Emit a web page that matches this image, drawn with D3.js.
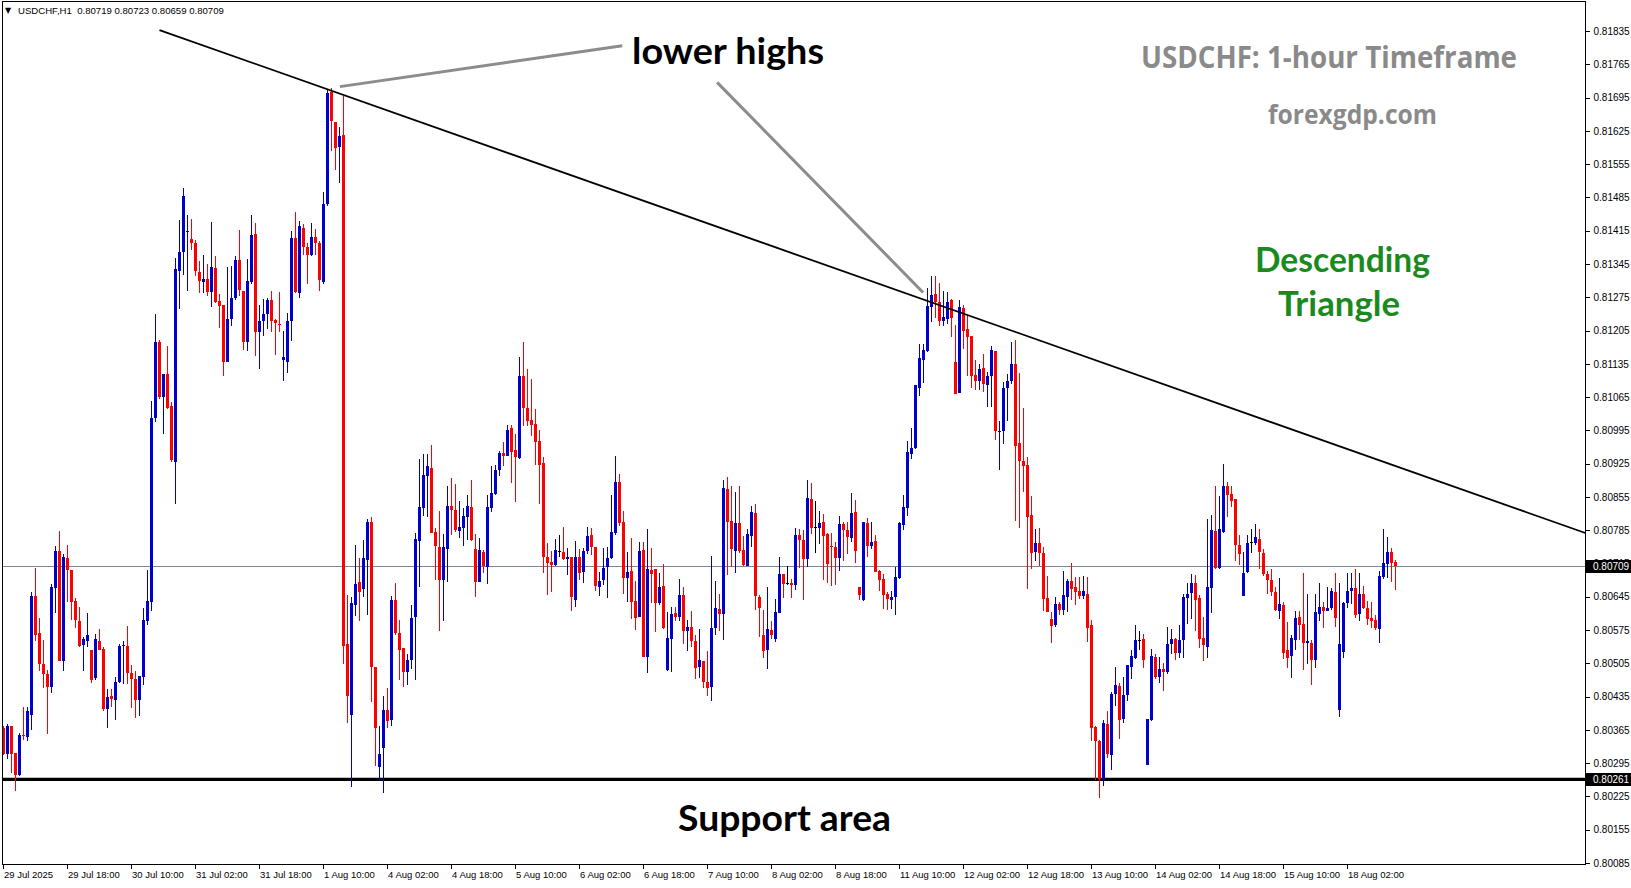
<!DOCTYPE html>
<html><head><meta charset="utf-8">
<script src="https://cdn.jsdelivr.net/npm/d3@7"></script>
<style>body{margin:0;background:#fff;}svg{display:block;}</style>
</head><body>
<svg id="chart" width="1631" height="888"></svg>
<script>
// ---------- DATA (USDCHF H1, bar 0 = 29 Jul 2025 02:00) ----------
const opens = [
0.80369,0.80314,0.80374,0.80316,0.80271,0.80354,0.80351,0.80397,0.80647,0.80568,
0.80504,0.80482,0.80456,0.80664,0.80741,0.80509,0.80727,0.80702,0.80636,0.80594,
0.80544,0.80552,0.80532,0.80474,0.80552,0.80536,0.80409,0.80437,0.80427,0.80466,
0.80541,0.80541,0.80484,0.80471,0.80427,0.80477,0.80594,0.80634,0.81021,0.81181,
0.81066,0.81114,0.81046,0.80929,0.81331,0.81370,0.81412,0.81397,0.81390,0.81329,
0.81307,0.81314,0.81287,0.81337,0.81267,0.81259,0.81139,0.81229,0.81274,0.81354,
0.81289,0.81181,0.81307,0.81409,0.81202,0.81226,0.81239,0.81269,0.81227,0.81219,
0.81144,0.81138,0.81224,0.81399,0.81284,0.81421,0.81381,0.81364,0.81402,0.81389,
0.81307,0.81471,0.81707,0.81644,0.81591,0.81616,0.80546,0.80396,0.80627,0.80677,
0.80661,0.80722,0.80802,0.80497,0.80287,0.80327,0.80407,0.80386,0.80639,0.80569,
0.80537,0.80487,0.80512,0.80603,0.80763,0.80832,0.80900,0.80916,0.80781,0.80750,
0.80680,0.80745,0.80836,0.80827,0.80783,0.80790,0.80813,0.80834,0.80745,0.80676,
0.80739,0.80708,0.80832,0.80861,0.80912,0.80947,0.80941,0.81000,0.80954,0.80936,
0.81109,0.81043,0.81017,0.81008,0.80973,0.80926,0.80729,0.80718,0.80712,0.80741,
0.80739,0.80724,0.80729,0.80638,0.80729,0.80697,0.80741,0.80775,0.80750,0.80666,
0.80680,0.80708,0.80727,0.80780,0.80887,0.80803,0.80685,0.80699,0.80636,0.80603,
0.80744,0.80519,0.80702,0.80704,0.80632,0.80668,0.80490,0.80557,0.80611,0.80603,
0.80649,0.80572,0.80581,0.80552,0.80498,0.80510,0.80465,0.80456,0.80579,0.80619,
0.80608,0.80871,0.80805,0.80742,0.80800,0.80744,0.80710,0.80773,0.80821,0.80644,
0.80564,0.80532,0.80575,0.80557,0.80610,0.80693,0.80674,0.80674,0.80670,0.80774,
0.80764,0.80724,0.80850,0.80791,0.80790,0.80802,0.80777,0.80752,0.80749,0.80727,
0.80798,0.80785,0.80769,0.80823,0.80665,0.80638,0.80800,0.80752,0.80762,0.80699,
0.80682,0.80651,0.80638,0.80644,0.80685,0.80796,0.80832,0.80945,0.80958,0.81084,
0.81143,0.81162,0.81254,0.81281,0.81265,0.81225,0.81229,0.81269,0.81138,0.81074,
0.81252,0.81208,0.81193,0.81111,0.81099,0.81126,0.81090,0.81110,0.81162,0.80991,
0.80993,0.81084,0.81099,0.81135,0.80969,0.80931,0.80922,0.80816,0.80739,0.80759,
0.80736,0.80642,0.80598,0.80586,0.80629,0.80617,0.80644,0.80678,0.80665,0.80657,
0.80647,0.80650,0.80585,0.80372,0.80341,0.80262,0.80378,0.80313,0.80441,0.80457,
0.80387,0.80439,0.80498,0.80517,0.80555,0.80556,0.80292,0.80386,0.80518,0.80477,
0.80494,0.80487,0.80545,0.80556,0.80527,0.80555,0.80643,0.80652,0.80673,0.80642,
0.80558,0.80540,0.80664,0.80784,0.80706,0.80782,0.80879,0.80862,0.80850,0.80754,
0.80647,0.80698,0.80760,0.80758,0.80767,0.80737,0.80692,0.80681,0.80656,0.80615,
0.80628,0.80532,0.80520,0.80553,0.80602,0.80588,0.80548,0.80548,0.80513,0.80609,
0.80624,0.80615,0.80621,0.80656,0.80406,0.80529,0.80631,0.80657,0.80663,0.80609,
0.80651,0.80621,0.80600,0.80597,0.80577,0.80687,0.80714,0.80739,0.80719];
const highs = [
0.80374,0.80377,0.80374,0.80316,0.80359,0.80414,0.80414,0.80656,0.80706,0.80601,
0.80554,0.80492,0.80672,0.80752,0.80784,0.80734,0.80754,0.80702,0.80642,0.80624,
0.80561,0.80611,0.80532,0.80566,0.80577,0.80539,0.80452,0.80452,0.80476,0.80546,
0.80552,0.80584,0.80501,0.80488,0.80479,0.80621,0.80702,0.81056,0.81239,0.81186,
0.81114,0.81172,0.81054,0.81357,0.81437,0.81504,0.81447,0.81439,0.81396,0.81351,
0.81364,0.81344,0.81434,0.81362,0.81281,0.81259,0.81339,0.81341,0.81362,0.81416,
0.81289,0.81356,0.81449,0.81432,0.81259,0.81271,0.81274,0.81289,0.81229,0.81287,
0.81204,0.81242,0.81414,0.81454,0.81436,0.81429,0.81389,0.81431,0.81419,0.81394,
0.81496,0.81712,0.81716,0.81644,0.81634,0.81699,0.80649,0.80644,0.80754,0.80726,
0.80764,0.80809,0.80812,0.80497,0.80374,0.80437,0.80454,0.80646,0.80674,0.80596,
0.80537,0.80524,0.80628,0.80780,0.80935,0.80945,0.80945,0.80964,0.80790,0.80825,
0.80777,0.80877,0.80895,0.80883,0.80846,0.80832,0.80859,0.80891,0.80776,0.80769,
0.80743,0.80859,0.80920,0.80922,0.80952,0.80971,0.81006,0.81006,0.80987,0.81149,
0.81181,0.81124,0.81103,0.81040,0.80996,0.80939,0.80759,0.80742,0.80766,0.80775,
0.80792,0.80748,0.80729,0.80762,0.80745,0.80748,0.80792,0.80790,0.80750,0.80697,
0.80748,0.80749,0.80858,0.80941,0.80903,0.80826,0.80739,0.80769,0.80678,0.80760,
0.80760,0.80788,0.80748,0.80704,0.80695,0.80714,0.80613,0.80623,0.80623,0.80682,
0.80666,0.80596,0.80615,0.80565,0.80577,0.80510,0.80531,0.80731,0.80678,0.80651,
0.80891,0.80897,0.80878,0.80866,0.80878,0.80773,0.80788,0.80836,0.80840,0.80648,
0.80617,0.80665,0.80594,0.80640,0.80728,0.80693,0.80710,0.80682,0.80790,0.80788,
0.80785,0.80890,0.80884,0.80847,0.80825,0.80819,0.80780,0.80780,0.80761,0.80815,
0.80802,0.80802,0.80863,0.80848,0.80665,0.80802,0.80810,0.80802,0.80775,0.80701,
0.80693,0.80655,0.80658,0.80708,0.80802,0.80859,0.80972,0.81000,0.81090,0.81176,
0.81176,0.81294,0.81319,0.81319,0.81305,0.81288,0.81286,0.81271,0.81216,0.81269,
0.81258,0.81237,0.81193,0.81143,0.81134,0.81155,0.81117,0.81172,0.81162,0.81015,
0.81097,0.81114,0.81181,0.81185,0.81116,0.81042,0.80940,0.80856,0.80787,0.80789,
0.80749,0.80688,0.80613,0.80644,0.80634,0.80699,0.80682,0.80717,0.80686,0.80686,
0.80688,0.80686,0.80596,0.80374,0.80343,0.80385,0.80404,0.80444,0.80497,0.80464,
0.80476,0.80501,0.80533,0.80586,0.80573,0.80567,0.80388,0.80535,0.80525,0.80519,
0.80506,0.80581,0.80578,0.80559,0.80586,0.80650,0.80673,0.80692,0.80690,0.80649,
0.80602,0.80808,0.80817,0.80877,0.80856,0.80925,0.80886,0.80877,0.80850,0.80775,
0.80740,0.80775,0.80787,0.80798,0.80787,0.80746,0.80699,0.80704,0.80665,0.80685,
0.80635,0.80592,0.80565,0.80616,0.80616,0.80696,0.80651,0.80554,0.80651,0.80673,
0.80633,0.80665,0.80663,0.80694,0.80673,0.80635,0.80694,0.80694,0.80703,0.80694,
0.80668,0.80637,0.80635,0.80607,0.80699,0.80787,0.80770,0.80748,0.80723];
const lows = [
0.80312,0.80304,0.80274,0.80236,0.80269,0.80344,0.80341,0.80364,0.80552,0.80489,
0.80454,0.80357,0.80442,0.80611,0.80509,0.80489,0.80634,0.80596,0.80579,0.80539,
0.80489,0.80539,0.80464,0.80469,0.80534,0.80404,0.80369,0.80414,0.80386,0.80464,
0.80462,0.80462,0.80412,0.80389,0.80394,0.80459,0.80586,0.80614,0.81012,0.81062,
0.80987,0.81039,0.80929,0.80841,0.81251,0.81322,0.81289,0.81374,0.81319,0.81284,
0.81284,0.81277,0.81254,0.81262,0.81211,0.81109,0.81139,0.81214,0.81269,0.81277,
0.81164,0.81161,0.81302,0.81152,0.81124,0.81193,0.81209,0.81201,0.81154,0.81201,
0.81099,0.81116,0.81184,0.81284,0.81274,0.81364,0.81302,0.81362,0.81364,0.81289,
0.81302,0.81466,0.81582,0.81542,0.81516,0.80504,0.80379,0.80244,0.80604,0.80594,
0.80644,0.80606,0.80424,0.80289,0.80259,0.80232,0.80369,0.80374,0.80564,0.80469,
0.80456,0.80459,0.80493,0.80470,0.80666,0.80815,0.80813,0.80780,0.80680,0.80572,
0.80595,0.80676,0.80775,0.80782,0.80768,0.80752,0.80764,0.80762,0.80645,0.80676,
0.80696,0.80672,0.80824,0.80859,0.80898,0.80920,0.80941,0.80885,0.80845,0.80934,
0.81005,0.81005,0.80983,0.80922,0.80841,0.80696,0.80649,0.80656,0.80710,0.80729,
0.80722,0.80691,0.80615,0.80624,0.80680,0.80674,0.80735,0.80733,0.80657,0.80647,
0.80670,0.80642,0.80725,0.80775,0.80794,0.80651,0.80635,0.80599,0.80575,0.80603,
0.80519,0.80484,0.80632,0.80570,0.80628,0.80577,0.80488,0.80486,0.80594,0.80594,
0.80546,0.80530,0.80540,0.80472,0.80475,0.80453,0.80437,0.80425,0.80564,0.80574,
0.80553,0.80690,0.80707,0.80694,0.80737,0.80709,0.80710,0.80749,0.80618,0.80561,
0.80516,0.80494,0.80556,0.80550,0.80610,0.80643,0.80670,0.80643,0.80659,0.80706,
0.80638,0.80708,0.80778,0.80738,0.80756,0.80680,0.80674,0.80668,0.80670,0.80700,
0.80721,0.80735,0.80761,0.80716,0.80638,0.80637,0.80729,0.80746,0.80698,0.80658,
0.80619,0.80617,0.80619,0.80606,0.80682,0.80785,0.80815,0.80934,0.80956,0.81068,
0.81095,0.81160,0.81223,0.81232,0.81215,0.81215,0.81218,0.81192,0.81072,0.81074,
0.81166,0.81110,0.81085,0.81080,0.81080,0.81076,0.81045,0.81045,0.80974,0.80912,
0.80967,0.81015,0.81093,0.80804,0.80789,0.80865,0.80662,0.80703,0.80720,0.80710,
0.80615,0.80613,0.80548,0.80582,0.80607,0.80607,0.80613,0.80639,0.80628,0.80641,
0.80641,0.80550,0.80341,0.80259,0.80221,0.80248,0.80306,0.80280,0.80416,0.80345,
0.80380,0.80425,0.80473,0.80515,0.80532,0.80496,0.80292,0.80383,0.80473,0.80464,
0.80446,0.80483,0.80524,0.80511,0.80517,0.80517,0.80588,0.80599,0.80572,0.80538,
0.80509,0.80517,0.80611,0.80704,0.80704,0.80779,0.80812,0.80834,0.80721,0.80712,
0.80647,0.80694,0.80736,0.80753,0.80704,0.80688,0.80651,0.80647,0.80615,0.80599,
0.80515,0.80495,0.80475,0.80534,0.80554,0.80490,0.80503,0.80459,0.80495,0.80593,
0.80579,0.80614,0.80617,0.80582,0.80392,0.80517,0.80621,0.80630,0.80600,0.80594,
0.80619,0.80586,0.80579,0.80576,0.80548,0.80682,0.80685,0.80675,0.80659];
const closes = [
0.80314,0.80374,0.80314,0.80271,0.80354,0.80352,0.80404,0.80646,0.80564,0.80504,
0.80482,0.80456,0.80666,0.80741,0.80509,0.80729,0.80702,0.80634,0.80596,0.80542,
0.80557,0.80564,0.80469,0.80556,0.80534,0.80409,0.80434,0.80429,0.80466,0.80541,
0.80544,0.80484,0.80471,0.80427,0.80479,0.80596,0.80636,0.81021,0.81181,0.81066,
0.81114,0.81042,0.80932,0.81334,0.81371,0.81487,0.81414,0.81389,0.81331,0.81309,
0.81314,0.81287,0.81339,0.81266,0.81257,0.81139,0.81229,0.81274,0.81354,0.81291,
0.81181,0.81310,0.81406,0.81202,0.81225,0.81239,0.81269,0.81224,0.81221,0.81217,
0.81149,0.81226,0.81399,0.81287,0.81424,0.81381,0.81364,0.81402,0.81389,0.81311,
0.81471,0.81704,0.81646,0.81589,0.81614,0.80542,0.80437,0.80631,0.80671,0.80654,
0.80726,0.80802,0.80497,0.80369,0.80314,0.80407,0.80384,0.80639,0.80569,0.80534,
0.80487,0.80512,0.80600,0.80766,0.80834,0.80901,0.80919,0.80780,0.80752,0.80680,
0.80750,0.80836,0.80827,0.80785,0.80792,0.80815,0.80836,0.80764,0.80676,0.80743,
0.80710,0.80834,0.80863,0.80912,0.80947,0.80942,0.80996,0.80950,0.80938,0.81109,
0.81043,0.81015,0.81006,0.80971,0.80922,0.80729,0.80717,0.80712,0.80743,0.80741,
0.80724,0.80729,0.80645,0.80729,0.80695,0.80741,0.80773,0.80750,0.80668,0.80678,
0.80705,0.80727,0.80782,0.80887,0.80801,0.80685,0.80697,0.80635,0.80601,0.80742,
0.80519,0.80704,0.80693,0.80632,0.80666,0.80579,0.80559,0.80609,0.80603,0.80649,
0.80572,0.80581,0.80552,0.80496,0.80512,0.80465,0.80454,0.80579,0.80621,0.80608,
0.80873,0.80803,0.80745,0.80800,0.80742,0.80712,0.80777,0.80824,0.80646,0.80622,
0.80530,0.80577,0.80565,0.80613,0.80693,0.80671,0.80674,0.80670,0.80774,0.80764,
0.80724,0.80853,0.80790,0.80791,0.80800,0.80773,0.80713,0.80750,0.80727,0.80798,
0.80785,0.80771,0.80821,0.80741,0.80648,0.80802,0.80752,0.80760,0.80698,0.80680,
0.80648,0.80640,0.80644,0.80686,0.80800,0.80834,0.80949,0.80958,0.81090,0.81147,
0.81164,0.81256,0.81279,0.81265,0.81225,0.81233,0.81265,0.81232,0.81072,0.81254,
0.81204,0.81192,0.81109,0.81099,0.81124,0.81092,0.81109,0.81164,0.80993,0.80994,
0.81084,0.81099,0.81135,0.80963,0.80931,0.80919,0.80812,0.80737,0.80759,0.80737,
0.80641,0.80613,0.80584,0.80629,0.80617,0.80648,0.80678,0.80662,0.80655,0.80647,
0.80657,0.80580,0.80370,0.80341,0.80261,0.80380,0.80315,0.80441,0.80460,0.80385,
0.80439,0.80501,0.80520,0.80554,0.80555,0.80511,0.80388,0.80521,0.80477,0.80494,
0.80487,0.80545,0.80556,0.80527,0.80555,0.80645,0.80651,0.80673,0.80638,0.80557,
0.80543,0.80665,0.80785,0.80706,0.80787,0.80879,0.80859,0.80846,0.80753,0.80734,
0.80694,0.80758,0.80760,0.80770,0.80739,0.80692,0.80680,0.80656,0.80617,0.80630,
0.80527,0.80517,0.80558,0.80600,0.80586,0.80547,0.80551,0.80513,0.80613,0.80624,
0.80615,0.80621,0.80658,0.80600,0.80546,0.80631,0.80658,0.80663,0.80607,0.80651,
0.80621,0.80598,0.80594,0.80579,0.80688,0.80715,0.80739,0.80717,0.80709];

const timeLabels = ["29 Jul 2025","29 Jul 18:00","30 Jul 10:00","31 Jul 02:00","31 Jul 18:00",
  "1 Aug 10:00","4 Aug 02:00","4 Aug 18:00","5 Aug 10:00","6 Aug 02:00","6 Aug 18:00",
  "7 Aug 10:00","8 Aug 02:00","8 Aug 18:00","11 Aug 10:00","12 Aug 02:00","12 Aug 18:00",
  "13 Aug 10:00","14 Aug 02:00","14 Aug 18:00","15 Aug 10:00","18 Aug 02:00"];
const barsPerLabel = 16;
const priceTicks = [0.81835,0.81765,0.81695,0.81625,0.81555,0.81485,0.81415,0.81345,0.81275,
  0.81205,0.81135,0.81065,0.80995,0.80925,0.80855,0.80785,0.80715,0.80645,0.80575,0.80505,
  0.80435,0.80365,0.80295,0.80225,0.80155,0.80085];
const supportLevel = 0.80261;
const trendBars = [39, 395.5];
const trendPrices = [0.81837, 0.80779];
const pointer1Bars = [84.1, 154.7], pointer1Prices = [0.81718, 0.81804];
const pointer2Bars = [178.4, 229.9], pointer2Prices = [0.81727, 0.81285];

// ---------- CHART ----------
const svg = d3.select("#chart");
const plot = {left: 2, top: 1, right: 1585, bottom: 864};
const n = closes.length;
const x = d3.scaleLinear().domain([0, n - 1]).range([3.5, 3.5 + 4 * (n - 1)]);
const y = d3.scaleLinear().domain([0.80085, 0.81835]).range([863, 31]);
const lastClose = closes[n - 1];

svg.append("defs").append("clipPath").attr("id", "clip")
  .append("rect").attr("x", plot.left).attr("y", plot.top)
  .attr("width", plot.right - plot.left).attr("height", plot.bottom - plot.top);

const g = svg.append("g").attr("clip-path", "url(#clip)");

// current price line
g.append("line").attr("x1", plot.left).attr("x2", plot.right)
  .attr("y1", Math.round(y(lastClose)) + 0.5).attr("y2", Math.round(y(lastClose)) + 0.5)
  .attr("stroke", "#778899").attr("stroke-width", 1);

// support line
g.append("line").attr("x1", plot.left).attr("x2", plot.right)
  .attr("y1", y(supportLevel)).attr("y2", y(supportLevel))
  .attr("stroke", "#000").attr("stroke-width", 3.2);

// candles
const bars = d3.range(n).map(i => ({i, o: opens[i], h: highs[i], l: lows[i], c: closes[i]}));
const colorOf = d => d.c > d.o ? "#0000cd" : (d.c < d.o ? "#ff0000" : "#000000");
const cg = g.append("g").attr("shape-rendering", "crispEdges");
cg.selectAll("rect.wick").data(bars).join("rect").attr("class", "wick")
  .attr("x", d => Math.floor(x(d.i)))
  .attr("width", 1)
  .attr("y", d => Math.round(y(d.h)))
  .attr("height", d => Math.max(1, Math.round(y(d.l)) - Math.round(y(d.h))))
  .attr("fill", colorOf);
cg.selectAll("rect.body").data(bars).join("rect").attr("class", "body")
  .attr("x", d => Math.floor(x(d.i)) - 1)
  .attr("width", 3)
  .attr("y", d => Math.round(y(Math.max(d.o, d.c))))
  .attr("height", d => Math.max(1, Math.round(y(Math.min(d.o, d.c))) - Math.round(y(Math.max(d.o, d.c)))))
  .attr("fill", colorOf);

// trendline
const line = d3.line().x(d => x(d[0])).y(d => y(d[1]));
g.append("path").datum(d3.zip(trendBars, trendPrices)).attr("d", line)
  .attr("fill", "none").attr("stroke", "#000").attr("stroke-width", 1.8);

// pointer lines
[[pointer1Bars, pointer1Prices], [pointer2Bars, pointer2Prices]].forEach(([bx, py]) => {
  g.append("path").datum(d3.zip(bx, py)).attr("d", line)
    .attr("fill", "none").attr("stroke", "#8c8c8c").attr("stroke-width", 3);
});

// frame
svg.append("rect").attr("x", plot.left + 0.5).attr("y", plot.top + 0.5)
  .attr("width", plot.right - plot.left).attr("height", plot.bottom - plot.top)
  .attr("fill", "none").attr("stroke", "#000").attr("stroke-width", 1)
  .attr("shape-rendering", "crispEdges");

// price axis
const yAxis = d3.axisRight(y).tickValues(priceTicks).tickFormat(d3.format(".5f"))
  .tickSize(4).tickPadding(4);
const ya = svg.append("g").attr("transform", `translate(${plot.right + 0.5},0)`).call(yAxis);
ya.select(".domain").remove();
ya.selectAll("line").attr("stroke", "#000").attr("shape-rendering", "crispEdges");
ya.selectAll("text").attr("font-family", "'Liberation Sans', Arial, sans-serif")
  .attr("font-size", 10).attr("fill", "#000");

// time axis
const xAxis = d3.axisBottom(x)
  .tickValues(timeLabels.map((d, k) => k * barsPerLabel))
  .tickFormat((d, k) => timeLabels[k]).tickSize(4).tickPadding(3);
const xa = svg.append("g").attr("transform", `translate(-1,${plot.bottom + 0.5})`).call(xAxis);
xa.select(".domain").remove();
xa.selectAll("line").attr("stroke", "#000").attr("shape-rendering", "crispEdges");
xa.selectAll("text").attr("font-family", "'Liberation Sans', Arial, sans-serif")
  .attr("font-size", 9.5).attr("fill", "#000").attr("text-anchor", "start").attr("dx", 1);

// price boxes
function priceBox(p) {
  const yy = Math.round(y(p));
  svg.append("rect").attr("x", plot.right + 1).attr("y", yy - 6).attr("width", 1631 - plot.right - 1)
    .attr("height", 13).attr("fill", "#000");
  svg.append("text").attr("x", plot.right + 8).attr("y", yy + 0.5).attr("dy", "0.35em")
    .attr("font-family", "'Liberation Sans', Arial, sans-serif").attr("font-size", 10)
    .attr("fill", "#fff").text(d3.format(".5f")(p));
}
priceBox(lastClose);
priceBox(supportLevel);

// header
svg.append("text").attr("x", 5).attr("y", 13).attr("font-size", 8)
  .attr("font-family", "'DejaVu Sans', sans-serif").attr("fill", "#000").text("▼");
const f5 = d3.format(".5f");
svg.append("text").attr("x", 18).attr("y", 14).attr("font-size", 9.6)
  .attr("font-family", "'Liberation Sans', Arial, sans-serif").attr("fill", "#000")
  .attr("xml:space", "preserve")
  .text(`USDCHF,H1  ${f5(opens[n-1])} ${f5(highs[n-1])} ${f5(lows[n-1])} ${f5(closes[n-1])}`);

// annotation texts
function label(txt, x0, x1, base, size, fill, family) {
  svg.append("text").attr("x", x0).attr("y", base)
    .attr("font-family", family).attr("font-weight", 700).attr("font-size", size)
    .attr("fill", fill).attr("textLength", x1 - x0).attr("lengthAdjust", "spacingAndGlyphs")
    .text(txt);
}
label("lower highs", 632, 824, 64, 37, "#000", "Lato, 'Open Sans', sans-serif");
label("USDCHF: 1-hour Timeframe", 1141, 1517, 68, 31, "#8a8a8a", "'Open Sans', sans-serif");
label("forexgdp.com", 1268, 1437, 124, 27, "#8a8a8a", "'Open Sans', sans-serif");
label("Descending", 1255, 1430, 272, 34, "#1b8a1e", "Lato, 'Open Sans', sans-serif");
label("Triangle", 1278, 1400, 316, 34, "#1b8a1e", "Lato, 'Open Sans', sans-serif");
label("Support area", 678, 891, 831, 36, "#000", "Lato, 'Open Sans', sans-serif");
</script>
</body></html>
